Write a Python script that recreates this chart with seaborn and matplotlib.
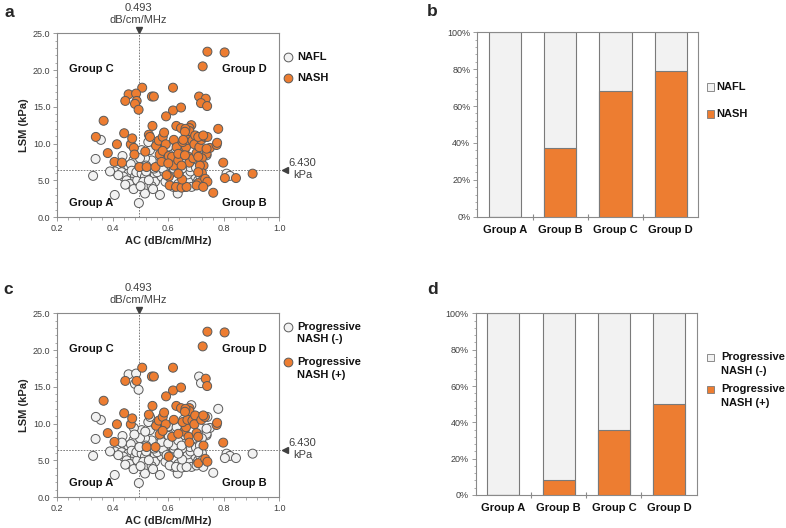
import matplotlib
matplotlib.use("Agg")
import matplotlib.pyplot as plt
import numpy as np
import pandas as pd
import seaborn as sns
from matplotlib.ticker import MultipleLocator, FormatStrFormatter, FixedLocator, NullFormatter
from matplotlib.lines import Line2D
from matplotlib.patches import Rectangle
import matplotlib.transforms as mtransforms

# ---------------- data ----------------
# NASH patients: AC, LSM, progressive-NASH flag
nash_ac = [0.741, 0.803, 0.724, 0.506, 0.617, 0.457, 0.484, 0.445, 0.486, 0.480, 0.493,
           0.541, 0.548, 0.711, 0.735, 0.718, 0.740, 0.617, 0.646, 0.592, 0.367, 0.543,
           0.629, 0.646, 0.683, 0.676, 0.780, 0.441, 0.339, 0.415, 0.382, 0.406, 0.433,
           0.465, 0.470, 0.476, 0.478, 0.517, 0.496, 0.522, 0.530, 0.534, 0.556, 0.566,
           0.569, 0.554, 0.580, 0.585, 0.591, 0.580, 0.576, 0.602, 0.620, 0.630, 0.614,
           0.619, 0.636, 0.602, 0.605, 0.628, 0.648, 0.666, 0.650, 0.658, 0.664, 0.652,
           0.669, 0.676, 0.662, 0.687, 0.697, 0.694, 0.673, 0.676, 0.690, 0.702, 0.712,
           0.719, 0.732, 0.741, 0.738, 0.750, 0.774, 0.776, 0.721, 0.727, 0.721, 0.724,
           0.708, 0.733, 0.741, 0.762, 0.798, 0.804, 0.844, 0.904, 0.660, 0.708, 0.726,
           0.654, 0.648, 0.714, 0.600, 0.636, 0.660, 0.708, 0.594, 0.636, 0.708, 0.702,
           0.726, 0.738]
nash_lsm = [22.5, 22.4, 20.5, 17.6, 17.6, 16.7, 16.8, 15.8, 15.8, 15.4, 14.6,
            16.4, 16.4, 16.4, 16.1, 15.5, 15.1, 14.5, 14.9, 13.7, 13.1, 12.4,
            12.4, 12.1, 12.5, 12.1, 12.0, 11.4, 10.9, 9.9, 8.7, 7.5, 7.4,
            9.9, 10.7, 9.4, 8.5, 8.9, 6.8, 6.8, 11.2, 10.9, 9.7, 10.4,
            8.5, 6.8, 10.9, 11.5, 9.9, 9.0, 7.5, 8.3, 10.5, 9.5, 8.2,
            7.0, 7.7, 5.5, 4.3, 4.1, 4.0, 4.1, 5.1, 8.9, 9.5, 10.2,
            10.5, 11.7, 12.0, 10.4, 11.1, 9.9, 8.2, 7.4, 8.0, 8.7, 9.5,
            10.5, 10.9, 10.9, 8.6, 9.4, 9.8, 10.1, 8.0, 7.0, 6.0, 5.0,
            4.6, 5.2, 4.8, 3.3, 7.4, 5.3, 5.3, 5.9, 11.6, 10.9, 11.1,
            10.5, 7.0, 7.0, 7.3, 8.6, 8.4, 8.2, 5.7, 5.9, 6.1, 4.3,
            4.1, 9.3]
nash_prog = [1, 1, 1, 1, 1, 0, 0, 1, 1, 0, 0,
             1, 1, 0, 1, 0, 1, 1, 1, 1, 1, 1,
             1, 1, 0, 1, 0, 1, 0, 1, 1, 1, 0,
             1, 1, 0, 0, 0, 0, 1, 1, 0, 1, 1,
             1, 1, 1, 1, 1, 1, 0, 0, 1, 0, 1,
             0, 0, 1, 0, 0, 0, 0, 0, 1, 1, 1,
             1, 1, 1, 1, 1, 1, 1, 1, 0, 1, 0,
             1, 1, 0, 0, 0, 1, 1, 0, 1, 0, 0,
             1, 1, 1, 0, 1, 0, 0, 0, 1, 0, 1,
             0, 0, 0, 0, 1, 0, 1, 0, 0, 0, 0,
             0, 0]

# NAFL patients: AC, LSM
nafl_ac = [0.357, 0.338, 0.435, 0.444, 0.474, 0.455, 0.485, 0.465,
           0.329, 0.407, 0.408, 0.432, 0.456, 0.468, 0.480, 0.480, 0.468, 0.438, 0.450,
           0.420, 0.460, 0.488, 0.445, 0.475, 0.390, 0.485,
           0.494, 0.570, 0.634, 0.504, 0.516, 0.534, 0.552, 0.510, 0.528, 0.516, 0.552,
           0.576, 0.606, 0.648, 0.690, 0.696, 0.672, 0.636, 0.618, 0.708, 0.715, 0.660,
           0.684, 0.810, 0.822, 0.540, 0.560, 0.590, 0.620, 0.670, 0.530, 0.500, 0.585,
           0.680, 0.520, 0.545, 0.640,
           0.504, 0.534, 0.552, 0.564, 0.528, 0.564, 0.540, 0.516, 0.498, 0.600, 0.612,
           0.642, 0.678, 0.738, 0.520, 0.550, 0.580, 0.620, 0.650, 0.700, 0.600, 0.660]
nafl_lsm = [10.5, 7.9, 8.3, 6.9, 7.7, 7.0, 9.0, 7.2,
            5.6, 3.0, 6.2, 6.1, 5.9, 6.3, 5.5, 4.3, 4.8, 5.5, 5.0,
            5.7, 4.5, 5.0, 4.4, 3.8, 6.2, 6.1,
            1.9, 3.0, 3.2, 5.9, 5.5, 6.3, 5.7, 4.8, 4.1, 3.2, 4.8,
            5.5, 5.9, 5.5, 5.5, 4.5, 4.8, 4.5, 4.1, 5.0, 5.6, 4.1,
            4.1, 5.9, 5.6, 4.2, 6.1, 4.8, 6.2, 5.8, 5.0, 4.2, 6.2,
            6.2, 6.2, 3.8, 6.3,
            9.1, 9.1, 10.0, 10.2, 10.2, 7.3, 7.7, 8.0, 8.0, 8.6, 7.5,
            7.5, 6.8, 8.4, 7.0, 6.6, 6.6, 6.6, 6.6, 6.7, 9.6, 7.6]

groups = ["Group A", "Group B", "Group C", "Group D"]
total_pct = [100, 100, 100, 100]
nash_pct = [0, 37, 68, 79]
prog_pct = [0, 8, 36, 50]

AC_CUT = 0.493
LSM_CUT = 6.430

# ---------------- style ----------------
sns.set_theme(style="white")
plt.rcParams["font.family"] = ["Liberation Sans", "DejaVu Sans"]

ORANGE = "#ED7D31"
LIGHT = "#F2F2F2"
EDGE = "#5a5a5a"
SPINE = "#8a8a8a"
TICKC = "#404040"

df_nash = pd.DataFrame({"AC": nash_ac, "LSM": nash_lsm, "prog": nash_prog})
df_nafl = pd.DataFrame({"AC": nafl_ac, "LSM": nafl_lsm, "prog": 0})
df_nash["dx"] = "NASH"
df_nafl["dx"] = "NAFL"
df = pd.concat([df_nafl, df_nash], ignore_index=True)
df["pn"] = np.where(df["prog"] == 1, "Progressive NASH (+)", "Progressive NASH (-)")

W, H = 786, 528
fig = plt.figure(figsize=(W / 100, H / 100), dpi=100)
ax_a = fig.add_axes([0.0729, 0.589, 0.2824, 0.3479])
ax_c = fig.add_axes([0.0729, 0.0587, 0.2824, 0.3479])
ax_b = fig.add_axes([0.6073, 0.5896, 0.2812, 0.3492])
ax_d = fig.add_axes([0.6052, 0.0625, 0.2812, 0.3440])


def fx(px):
    return px / W


def fy(py):
    return 1 - py / H


def style_spines(ax):
    for s in ax.spines.values():
        s.set_visible(True)
        s.set_color(SPINE)
        s.set_linewidth(0.8)


def scatter_panel(ax, hue_col, order):
    d = df.copy()
    d["_o"] = d[hue_col].map({order[0]: 0, order[1]: 1})
    d = d.sort_values("_o", kind="stable")
    sns.scatterplot(data=d, x="AC", y="LSM", hue=hue_col, hue_order=order,
                    palette=[LIGHT, ORANGE], s=42, edgecolor=EDGE, linewidth=0.7,
                    legend=False, ax=ax, zorder=3)
    ax.set_xlim(0.2, 1.0)
    ax.set_ylim(0, 25)
    ax.xaxis.set_major_locator(MultipleLocator(0.2))
    ax.xaxis.set_minor_locator(MultipleLocator(0.04))
    ax.yaxis.set_major_locator(MultipleLocator(5))
    ax.yaxis.set_minor_locator(MultipleLocator(1))
    ax.xaxis.set_major_formatter(FormatStrFormatter("%.1f"))
    ax.yaxis.set_major_formatter(FormatStrFormatter("%.1f"))
    ax.tick_params(which="both", direction="out", colors=SPINE, labelcolor=TICKC,
                   labelsize=6.5, bottom=True, left=True)
    ax.tick_params(which="major", length=3, width=0.6, pad=2)
    ax.tick_params(which="minor", length=1.8, width=0.5)
    style_spines(ax)
    ax.set_xlabel("AC (dB/cm/MHz)", fontsize=8, fontweight="bold", labelpad=2)
    ax.set_ylabel("LSM (kPa)", fontsize=8, fontweight="bold", labelpad=3)
    # cut-off lines
    ax.plot([AC_CUT, AC_CUT], [0, 25.3], ls=(0, (2, 1.5)), lw=0.6, color="#6a6a6a",
            clip_on=False, zorder=2)
    ax.plot([0.2, 1.012], [LSM_CUT, LSM_CUT], ls=(0, (2, 1.5)), lw=0.6, color="#6a6a6a",
            clip_on=False, zorder=2)
    ax.plot([AC_CUT], [25.45], marker="v", ms=4.2, color="#404040", clip_on=False, zorder=4)
    ax.plot([1.020], [LSM_CUT], marker="<", ms=4.2, color="#404040", clip_on=False, zorder=4)
    tr = mtransforms.blended_transform_factory(ax.transData, ax.transAxes)
    ax.text(AC_CUT, 1.045, f"{AC_CUT:.3f}\ndB/cm/MHz", transform=tr, ha="center",
            va="bottom", fontsize=8, color="#404040", linespacing=1.2)
    tr2 = mtransforms.blended_transform_factory(ax.transAxes, ax.transData)
    ax.text(1.043, LSM_CUT + 0.1, f"{LSM_CUT:.3f}\nkPa", transform=tr2, ha="left",
            va="center", fontsize=8, color="#404040", multialignment="center",
            linespacing=1.15)
    kw = dict(fontsize=8, fontweight="bold", va="center", color="#111111")
    ax.text(0.243, 20.2, groups[2], ha="left", **kw)
    ax.text(0.956, 20.2, groups[3], ha="right", **kw)
    ax.text(0.243, 1.9, groups[0], ha="left", **kw)
    ax.text(0.956, 1.9, groups[1], ha="right", **kw)


scatter_panel(ax_a, "dx", ["NAFL", "NASH"])
scatter_panel(ax_c, "pn", ["Progressive NASH (-)", "Progressive NASH (+)"])


def bar_panel(ax, pct):
    sns.barplot(x=groups, y=total_pct, color=LIGHT, edgecolor="#7a7a7a", linewidth=0.8,
                width=0.58, saturation=1, ax=ax, zorder=2)
    sns.barplot(x=groups, y=pct, color=ORANGE, edgecolor="#7a7a7a", linewidth=0.8,
                width=0.58, saturation=1, ax=ax, zorder=3)
    ax.set_xlim(-0.5, 3.5)
    ax.set_ylim(0, 100)
    ax.yaxis.set_major_locator(MultipleLocator(20))
    ax.yaxis.set_minor_locator(MultipleLocator(4))
    ax.yaxis.set_major_formatter(FormatStrFormatter("%d%%"))
    ax.xaxis.set_major_locator(FixedLocator([0.5, 1.5, 2.5]))
    ax.xaxis.set_major_formatter(NullFormatter())
    ax.xaxis.set_minor_locator(FixedLocator([0, 1, 2, 3]))
    ax.set_xticklabels(groups, minor=True)
    ax.tick_params(axis="x", which="major", direction="inout", length=5, width=0.8,
                   colors=SPINE, bottom=True)
    ax.tick_params(axis="x", which="minor", length=0, pad=6, labelsize=8,
                   labelcolor="#111111", bottom=True)
    for t in ax.get_xticklabels(minor=True):
        t.set_fontweight("bold")
    ax.tick_params(axis="y", which="both", direction="out", colors=SPINE,
                   labelcolor=TICKC, labelsize=6.5, left=True)
    ax.tick_params(axis="y", which="major", length=3, width=0.6, pad=2)
    ax.tick_params(axis="y", which="minor", length=1.8, width=0.5)
    ax.set_xlabel("")
    ax.set_ylabel("")
    style_spines(ax)


bar_panel(ax_b, nash_pct)
bar_panel(ax_d, prog_pct)

# ---------------- legends (drawn in figure pixels) ----------------
LEG_TXT = dict(fontsize=8, fontweight="bold", va="center", ha="left", color="#111111")


def circle_entry(px, py, color, tx, lines, dy=12.5):
    fig.add_artist(Line2D([fx(px)], [fy(py)], marker="o", ls="", ms=6.3,
                          markerfacecolor=color, markeredgecolor=EDGE,
                          markeredgewidth=0.7, transform=fig.transFigure))
    for i, s in enumerate(lines):
        fig.text(fx(tx), fy(py + i * dy), s, **LEG_TXT)


def square_entry(px, py, color, tx, lines, dy=13.5, size=7):
    fig.add_artist(Rectangle((fx(px - size / 2), fy(py + size / 2)), size / W, size / H,
                             facecolor=color, edgecolor="#7a7a7a", linewidth=0.6,
                             transform=fig.transFigure))
    for i, s in enumerate(lines):
        fig.text(fx(tx), fy(py + i * dy), s, **LEG_TXT)


circle_entry(288, 57, LIGHT, 297, ["NAFL"])
circle_entry(288, 78, ORANGE, 297, ["NASH"])
circle_entry(288, 327, LIGHT, 297, ["Progressive", "NASH (-)"])
circle_entry(288, 362, ORANGE, 297, ["Progressive", "NASH (+)"])

square_entry(710, 87, LIGHT, 716.5, ["NAFL"])
square_entry(710, 114, ORANGE, 716.5, ["NASH"])
square_entry(710, 357, LIGHT, 721, ["Progressive", "NASH (-)"])
square_entry(710, 389, ORANGE, 721, ["Progressive", "NASH (+)"])

# panel letters
for x, y, s in [(0.006, 0.976, "a"), (0.543, 0.979, "b"), (0.004, 0.452, "c"), (0.544, 0.452, "d")]:
    fig.text(x, y, s, fontsize=12.5, fontweight="bold", va="center", ha="left")

fig.savefig("out.png", dpi=100)
